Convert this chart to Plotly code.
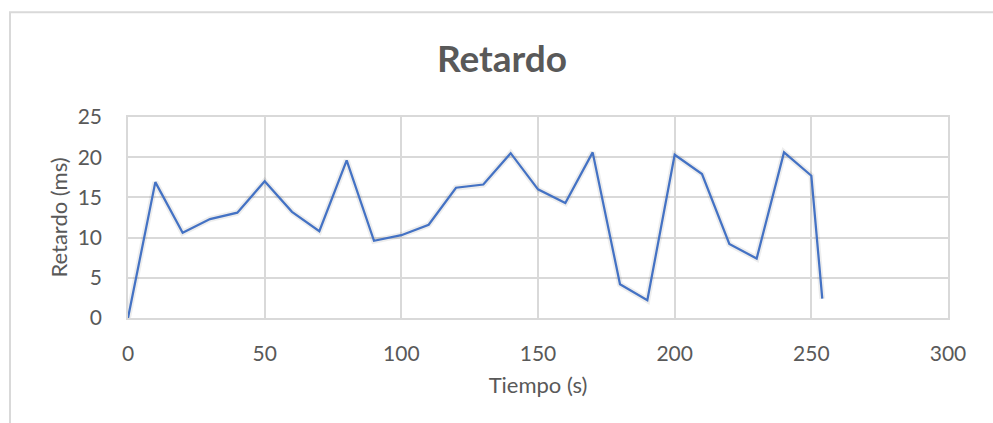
import plotly.graph_objects as go

# Delay measurements over time
tiempo_s = [0, 10, 20, 30, 40, 50, 60, 70, 80, 90, 100, 110, 120, 130, 140,
            150, 160, 170, 180, 190, 200, 210, 220, 230, 240, 250, 254]
retardo_ms = [0.0, 16.9, 10.6, 12.3, 13.1, 17.0, 13.2, 10.8, 19.6, 9.6, 10.3,
              11.6, 16.2, 16.6, 20.5, 16.0, 14.3, 20.6, 4.2, 2.2, 20.3, 17.9,
              9.2, 7.4, 20.6, 17.7, 2.4]

x_ticks = [0, 50, 100, 150, 200, 250, 300]
y_ticks = [0, 5, 10, 15, 20, 25]

FONT = "Lato, 'Open Sans', sans-serif"
TEXT = "#595959"
GRID = "#d9d9d9"
LINE = "#4472C4"

fig = go.Figure()

# soft shadow under the series line
fig.add_trace(go.Scatter(
    x=tiempo_s, y=retardo_ms, mode="lines",
    line=dict(color="rgba(0,0,0,0.07)", width=6),
    hoverinfo="skip", showlegend=False,
))
fig.add_trace(go.Scatter(
    x=tiempo_s, y=retardo_ms, mode="lines",
    line=dict(color=LINE, width=2.25),
    name="Retardo", showlegend=False,
))

fig.update_layout(
    width=993, height=423,
    margin=dict(l=128, r=45, t=117, b=105),
    paper_bgcolor="white", plot_bgcolor="white",
    font=dict(family=FONT, color=TEXT),
    title=dict(
        text="<b>Retardo</b>",
        font=dict(family=FONT, size=37, color=TEXT),
        xref="container", yref="container",
        x=502 / 993, xanchor="center",
        y=1 - 59 / 423, yanchor="middle",
    ),
    xaxis=dict(
        range=[0, 300], tickvals=x_ticks,
        showgrid=True, gridcolor=GRID, gridwidth=1.5,
        zeroline=False, showline=True, linecolor=GRID, linewidth=1.5,
        mirror=True,
        ticks="", ticklabelstandoff=16,
        tickfont=dict(family=FONT, size=21, color=TEXT),
        title=dict(text="Tiempo (s)", standoff=14,
                   font=dict(family=FONT, size=22, color=TEXT)),
    ),
    yaxis=dict(
        range=[0, 25], tickvals=y_ticks,
        showgrid=True, gridcolor=GRID, gridwidth=1.5,
        zeroline=False, showline=True, linecolor=GRID, linewidth=1.5,
        mirror=True,
        ticks="", ticklabelstandoff=20,
        tickfont=dict(family=FONT, size=21, color=TEXT),
        title=dict(text="Retardo (ms)", standoff=4,
                   font=dict(family=FONT, size=22, color=TEXT)),
    ),
    shapes=[
        # outer chart frame
        dict(type="rect", xref="paper", yref="paper",
             x0=(10 - 128) / 820, x1=1.2,
             y0=-1.0, y1=(318.3 - 12.5) / 201,
             line=dict(color=GRID, width=2), fillcolor="rgba(0,0,0,0)",
             layer="below"),
    ],
)

fig.write_html("out.html")
